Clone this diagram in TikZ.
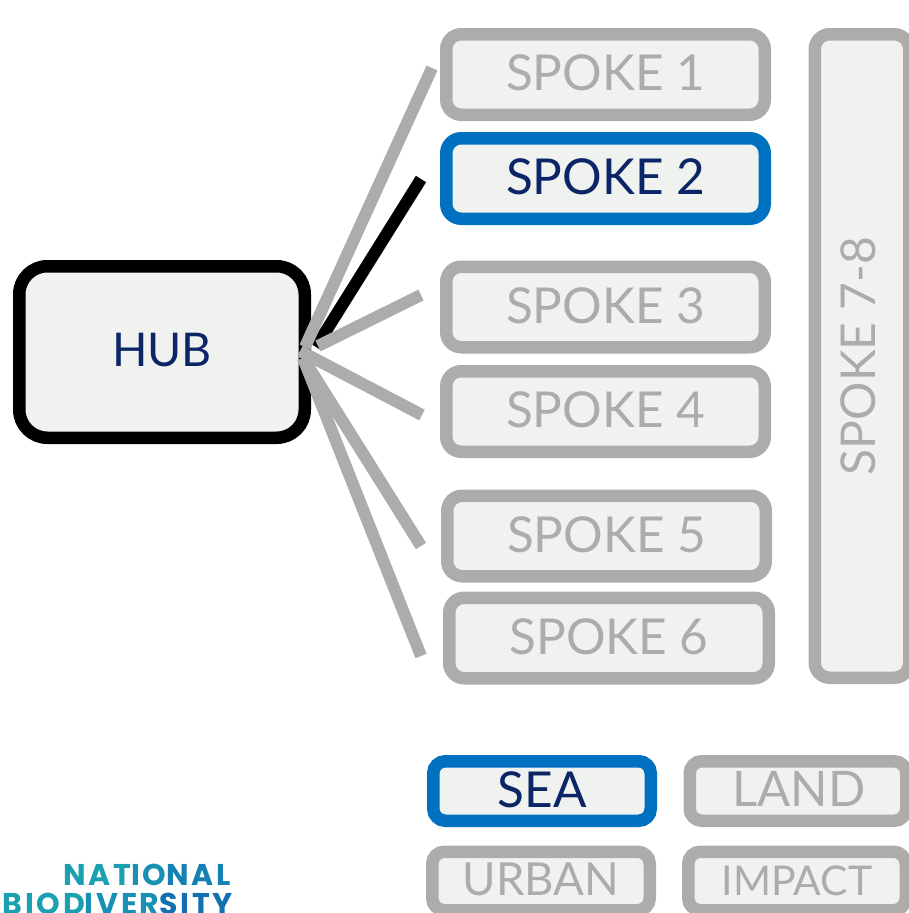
\documentclass[tikz,border=0pt]{standalone}
\usepackage{fontspec}
\setmainfont{Lato}
\newfontfamily\logofont{Poppins}
\definecolor{greyline}{HTML}{ADACAA}
\definecolor{fillbox}{HTML}{F0F2F0}
\definecolor{navy}{HTML}{0B2566}
\definecolor{bluebox}{HTML}{0070C0}
\definecolor{logoA}{HTML}{1AA0B0}
\definecolor{logoB}{HTML}{1890B4}
\definecolor{logoC}{HTML}{1580B4}
\definecolor{logoD}{HTML}{1070B0}
\newcommand{\up}[1]{\raisebox{3.5pt}{#1}}
\tikzset{
  x=1pt,y=-1pt,
  boxbase/.style={draw,rounded corners=15pt,fill=fillbox,line width=12.5pt,inner sep=0pt,outer sep=0pt,align=center,font=\fontsize{49.5}{52}\selectfont},
  greybox/.style={boxbase,draw=greyline,text=greyline},
  bluesel/.style={boxbase,draw=bluebox,text=navy},
  hubbox/.style={boxbase,draw=black,text=navy,rounded corners=28pt,font=\fontsize{46.5}{50}\selectfont},
  greylink/.style={draw=greyline,line width=12pt},
  blacklink/.style={draw=black,line width=12pt},
  logotext/.style={inner sep=0pt,anchor=base east,font=\logofont\bfseries\fontsize{30}{31}\selectfont\addfontfeature{LetterSpace=9}},
}
\begin{document}
\begin{tikzpicture}
\useasboundingbox (0,0) rectangle (909,913);
\clip (0,0) rectangle (909,913);
\node[hubbox,minimum width=285.5pt,minimum height=171.5pt] (hub) at (162,352) {\up{HUB}};
\node[greybox,minimum width=318.5pt,minimum height=80.5pt] (s1) at (605.5,74.5) {\up{SPOKE 1}};
\node[bluesel,minimum width=318.5pt,minimum height=80.5pt] (s2) at (605.5,178.5) {\up{SPOKE 2}};
\node[greybox,minimum width=318.5pt,minimum height=80.5pt] (s3) at (605.5,307) {\up{SPOKE 3}};
\node[greybox,minimum width=318.5pt,minimum height=80.5pt] (s4) at (605.5,411.5) {\up{SPOKE 4}};
\node[greybox,minimum width=318.5pt,minimum height=80.5pt] (s5) at (606.5,536) {\up{SPOKE 5}};
\node[greybox,minimum width=319.5pt,minimum height=80.5pt] (s6) at (609,638) {\up{SPOKE 6}};
\node[greybox,font=\fontsize{48}{50}\selectfont,minimum width=643.5pt,minimum height=94.5pt,rotate=90] (s7) at (862,356) {\raisebox{8pt}{SPOKE 7-8}};
\node[bluesel,minimum width=217.5pt,minimum height=59.5pt,rounded corners=12pt] (sea) at (542,791) {\up{SEA}};
\node[greybox,font=\fontsize{49}{52}\selectfont,minimum width=216.5pt,minimum height=59.5pt,rounded corners=12pt] (land) at (798,791) {\kern2pt\up{LAND}};
\node[greybox,font=\fontsize{45.5}{50}\selectfont,minimum width=217.5pt,minimum height=58.5pt,rounded corners=12pt] (urban) at (541,881) {\up{URBAN}};
\node[greybox,font=\fontsize{41}{46}\selectfont,minimum width=217.5pt,minimum height=58.5pt,rounded corners=12pt] (impact) at (797,881) {IMPACT};
\coordinate (o1) at (305,347);
\coordinate (e1) at (432,68);
\coordinate (o2) at (316,347);
\coordinate (e2) at (421,179);
\coordinate (o3) at (318,346);
\coordinate (e3) at (421,295);
\coordinate (o4) at (300,351);
\coordinate (e4) at (422,415);
\coordinate (o5) at (303,358);
\coordinate (e5) at (421,546);
\coordinate (o6) at (303,358);
\coordinate (e6) at (421,656);
\draw[blacklink] (o2) -- (e2);
\draw[greylink] (o1) -- (e1);
\draw[greylink] (o3) -- (e3);
\draw[greylink] (o4) -- (e4);
\draw[greylink] (o5) -- (e5);
\draw[greylink] (o6) -- (e6);
\node[logotext] (logoa) at (231,885) {\textcolor{logoA}{NAT}\textcolor{logoB}{IO}\textcolor{logoC}{NAL}};
\node[logotext] (logob) at (233,914) {\textcolor{logoA}{BIOD}\textcolor{logoB}{IVER}\textcolor{logoD}{SITY}};
\end{tikzpicture}
\end{document}
